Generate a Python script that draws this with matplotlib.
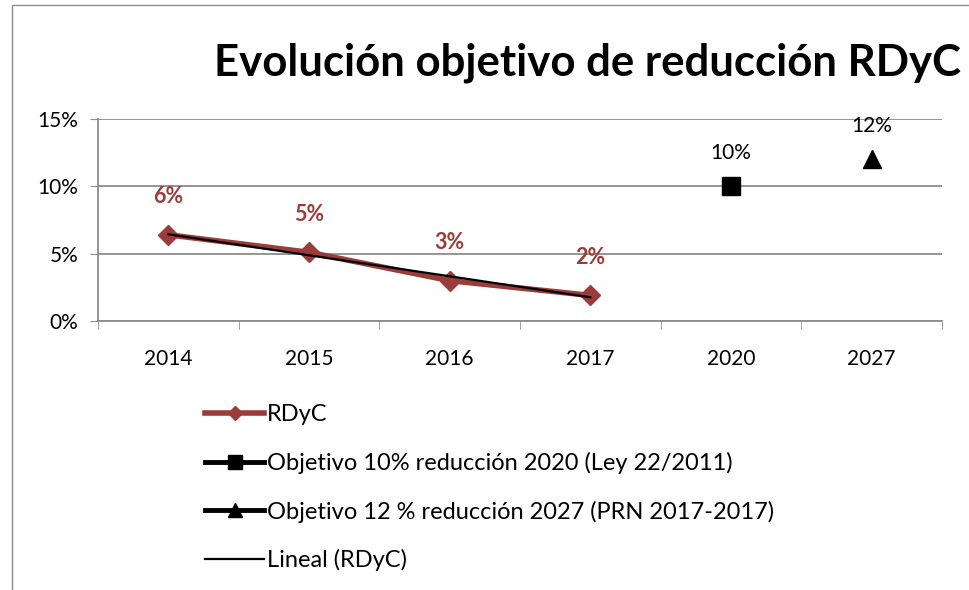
import matplotlib.pyplot as plt
import numpy as np
from matplotlib.patches import Rectangle

categorias = ['2014', '2015', '2016', '2017', '2020', '2027']
rdyc = [6.4, 5.1, 3.0, 1.9]
etiquetas_rdyc = ['6%', '5%', '3%', '2%']
objetivo_2020 = 10
objetivo_2027 = 12
yticks = [0, 5, 10, 15]

plt.rcParams['font.family'] = ['Lato', 'DejaVu Sans']
rojo = '#9b3b3a'

fig = plt.figure(figsize=(9.7, 5.9), dpi=100)
fig.patches.append(Rectangle((12 / 970, -0.1), 1.2, (585 / 590) + 0.1, transform=fig.transFigure,
                             fill=False, edgecolor='#8c8c8c', linewidth=1))
ax = fig.add_axes([98 / 970, 1 - 321 / 590, 844 / 970, 202 / 590])

x = np.arange(len(categorias))
xr = x[:4]

l1, = ax.plot(xr, rdyc, color=rojo, lw=4, marker='D', ms=10, label='RDyC', zorder=3)
l2, = ax.plot([x[4]], [objetivo_2020], color='black', lw=3.5, marker='s', ms=13,
              label='Objetivo 10% reducción 2020 (Ley 22/2011)', zorder=3)
l3, = ax.plot([x[5]], [objetivo_2027], color='black', lw=3.5, marker='^', ms=13,
              label='Objetivo 12 % reducción 2027 (PRN 2017-2017)', zorder=3)
coef = np.polyfit(xr + 1, rdyc, 1)
l4, = ax.plot(xr, np.polyval(coef, xr + 1), color='black', lw=1.6, label='Lineal (RDyC)', zorder=4)

for xi, v, t in zip(xr, rdyc, etiquetas_rdyc):
    ax.annotate(t, (xi, v), xytext=(0, 20), textcoords='offset points', ha='center',
                va='bottom', color=rojo, fontsize=15.5, fontweight='bold')
ax.annotate('10%', (x[4], objetivo_2020), xytext=(0, 17), textcoords='offset points',
            ha='center', va='bottom', fontsize=15)
ax.annotate('12%', (x[5], objetivo_2027), xytext=(0, 17), textcoords='offset points',
            ha='center', va='bottom', fontsize=15)

ax.set_xlim(-0.5, len(categorias) - 0.5)
ax.set_ylim(0, 15)
ax.set_yticks(yticks)
ax.set_yticklabels([f'{v}%' for v in yticks], fontsize=15)
ax.set_xticks(x)
ax.set_xticklabels(categorias, fontsize=15)
ax.set_xticks(np.arange(len(categorias) + 1) - 0.5, minor=True)
ax.tick_params(axis='x', which='major', length=0, pad=20)
ax.tick_params(axis='x', which='minor', length=6, color='#8c8c8c')
ax.tick_params(axis='y', length=6, color='#8c8c8c', pad=8)
ax.yaxis.grid(True, color='#8c8c8c', lw=1.3)
ax.set_axisbelow(True)
for s in ['top', 'right']:
    ax.spines[s].set_visible(False)
for s in ['left', 'bottom']:
    ax.spines[s].set_color('#8c8c8c')
    ax.spines[s].set_linewidth(1.3)

fig.text(588 / 970, 1 - 63 / 590, 'Evolución objetivo de reducción RDyC', ha='center',
         va='center', fontsize=31.5, fontweight='bold')

fig.legend(handles=[l1, l2, l3, l4], loc='upper left', bbox_to_anchor=(196 / 970, 1 - 395 / 590),
           frameon=False, fontsize=17, handlelength=2.5, handletextpad=0.1, labelspacing=1.12,
           markerscale=0.75, borderaxespad=0)

fig.savefig('out.png', dpi=100)
